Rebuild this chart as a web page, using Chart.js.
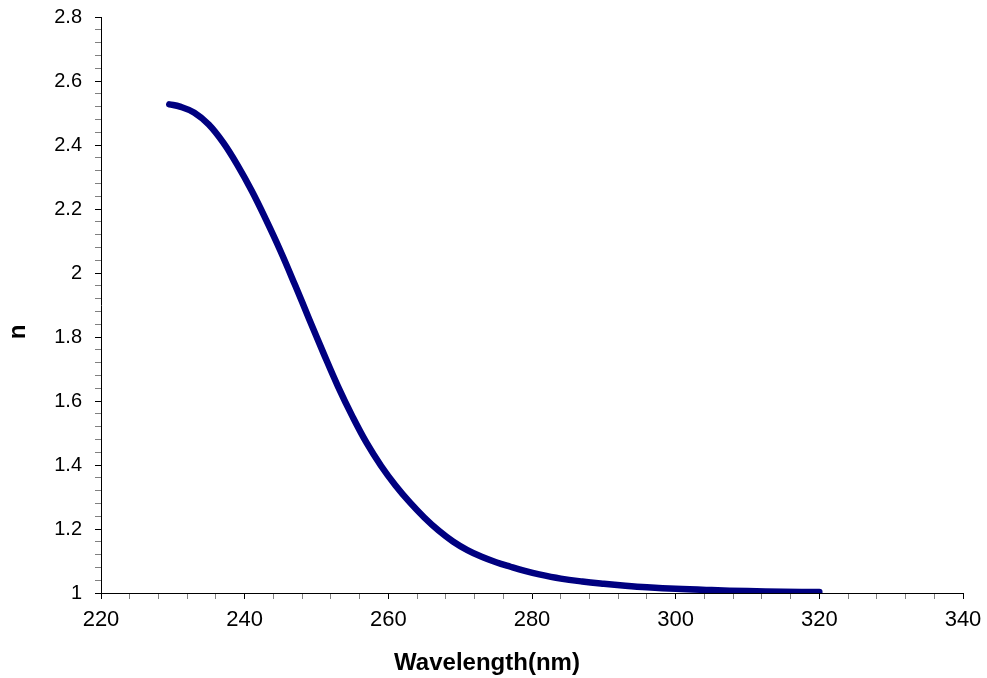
<!DOCTYPE html>
<html>
<head>
<meta charset="utf-8">
<title>n vs wavelength</title>
<script src="https://cdn.jsdelivr.net/npm/chart.js@4.4.1/dist/chart.umd.min.js"></script>
<style>
    html, body { margin: 0; padding: 0; background: #fff; }
    canvas { display: block; }
</style>
</head>
<body>
<canvas id="nChart" width="987" height="678"></canvas>
<script>
// values
const wavelength = [229.5, 231, 233, 235, 237, 239, 241, 243, 245, 247, 249, 251, 253, 255, 257, 259, 261, 263, 265, 267,
    269, 271, 273, 275, 277, 279, 281, 284, 287, 290, 293, 296, 300, 305, 310, 315, 320];
const refractiveIndex = [2.527, 2.520, 2.501, 2.464, 2.408, 2.337, 2.256, 2.165, 2.068, 1.963, 1.855, 1.748, 1.645, 1.552, 1.468, 1.397, 1.336, 1.283, 1.236, 1.195,
    1.161, 1.134, 1.113, 1.096, 1.082, 1.069, 1.058, 1.045, 1.036, 1.029, 1.023, 1.018, 1.013, 1.009, 1.006, 1.004, 1.003];

const xMin = 220, xMax = 340, xMajor = 20, xMinor = 4;
const yMin = 1, yMax = 2.8, yMajor = 0.2, yMinor = 0.04;

const FONT = "'Liberation Sans', Arial, Helvetica, sans-serif";

const isMajor = (v, step) => Math.abs(v / step - Math.round(v / step)) < 1e-6;

const axisTitles = {
    id: "axisTitles",
    afterDraw(chart) {
        const ctx = chart.ctx;
        ctx.save();
        ctx.fillStyle = "#000";
        ctx.font = "bold 24px " + FONT;
        ctx.textAlign = "center";
        ctx.textBaseline = "alphabetic";
        ctx.fillText("Wavelength(nm)", 487, 670);
        ctx.translate(25, 332);
        ctx.rotate(-Math.PI / 2);
        ctx.fillText("n", 0, 0);
        ctx.restore();
    }
};

new Chart(document.getElementById("nChart"), {
    type: "scatter",
    data: {
        datasets: [{
            label: "n",
            data: wavelength.map((x, i) => ({ x: x, y: refractiveIndex[i] })),
            showLine: true,
            borderColor: "#000080",
            backgroundColor: "#000080",
            borderWidth: 6.5,
            borderCapStyle: "round",
            borderJoinStyle: "round",
            pointRadius: 0,
            tension: 0.4
        }]
    },
    options: {
        responsive: false,
        animation: false,
        layout: { padding: { top: 17, right: 24, left: 0, bottom: 0 } },
        plugins: { legend: { display: false }, tooltip: { enabled: false } },
        scales: {
            x: {
                type: "linear",
                min: xMin,
                max: xMax,
                afterFit(scale) {
                    scale.height = 85;
                    scale.paddingLeft = 0;
                    scale.paddingRight = 0;
                },
                border: { display: true, color: "#000", width: 1 },
                grid: {
                    drawOnChartArea: false,
                    drawTicks: true,
                    tickLength: 6,
                    tickColor: ctx => ctx.tick && isMajor(ctx.tick.value, xMajor) ? "#000" : "#808080"
                },
                ticks: {
                    stepSize: xMinor,
                    autoSkip: false,
                    maxRotation: 0,
                    padding: 8,
                    color: "#000",
                    font: { family: FONT, size: 22 },
                    callback: v => isMajor(v, xMajor) ? String(v) : ""
                }
            },
            y: {
                type: "linear",
                min: yMin,
                max: yMax,
                afterFit(scale) {
                    scale.width = 101;
                    scale.paddingTop = 0;
                    scale.paddingBottom = 0;
                },
                border: { display: true, color: "#000", width: 1 },
                grid: {
                    drawOnChartArea: false,
                    drawTicks: true,
                    tickLength: 6,
                    tickColor: ctx => ctx.tick && isMajor(ctx.tick.value, yMajor) ? "#000" : "#808080"
                },
                ticks: {
                    stepSize: yMinor,
                    autoSkip: false,
                    padding: 13,
                    color: "#000",
                    font: { family: FONT, size: 20 },
                    callback: v => isMajor(v, yMajor) ? String(Math.round(v * 10) / 10) : ""
                }
            }
        }
    },
    plugins: [axisTitles]
});
</script>
</body>
</html>
